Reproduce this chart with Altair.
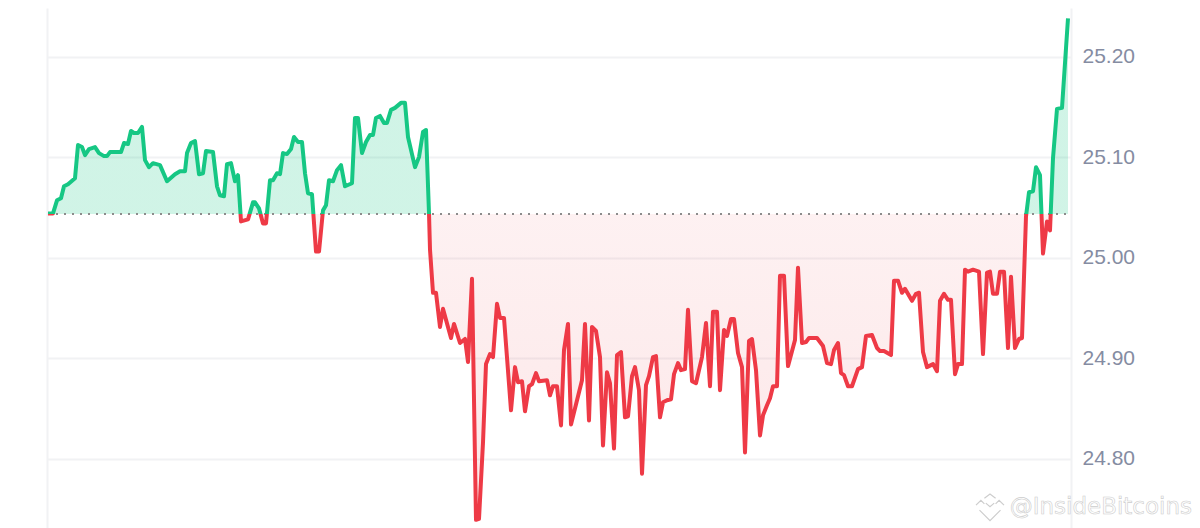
import altair as alt
import pandas as pd

BASE = 25.0434

t = [0,5,9,13,16,20,27,30,34,37,41,47,51,56,59,62,73,76,80,83,86,90,94,97,101,105,112,119,127,132,137,139,143,147,151,155,158,165,169,172,176,179,183,187,190,193,
     200,205,207,211,215,218,222,225,229,232,235,239,243,246,250,254,257,260,264,268,271,275,278,281,285,289,293,297,304,307,310,314,318,322,325,328,332,336,339,343,347,353,357,360,367,371,375,378,381,
     382,385,388,392,395,403,406,412,417,420,424,428,431,435,438,442,445,449,452,456,463,467,470,474,477,481,484,488,491,499,502,505,509,513,516,520,523,534,537,541,544,548,552,555,559,562,566,569,573,577,580,
     584,587,591,594,598,601,605,608,612,615,619,623,626,630,633,637,640,644,648,654,658,662,665,669,672,676,679,683,686,690,694,697,701,704,708,712,715,719,722,725,729,732,736,740,747,750,754,758,761,769,
     775,779,783,786,790,793,796,800,804,810,814,818,824,829,832,836,843,846,850,854,857,864,868,871,875,879,885,889,892,896,900,903,907,910,914,917,920,925,931,935,939,942,945,949,952,956,960,963,967,971,974,
     978,981,985,988,992,995,999,1002,1005,1009,1014,1020]

price = [25.044,25.044,25.057,25.059,25.071,25.073,25.079,25.112,25.110,25.102,25.108,25.110,25.104,25.101,25.101,25.105,25.105,25.114,25.113,25.126,25.124,25.124,25.130,25.097,25.090,25.094,25.092,25.076,25.083,25.086,25.086,25.104,25.114,25.116,25.083,25.084,25.106,25.105,25.071,25.062,25.061,25.093,25.094,25.076,25.082,25.036,
         25.038,25.055,25.055,25.049,25.034,25.034,25.077,25.077,25.084,25.083,25.104,25.103,25.108,25.120,25.115,25.115,25.084,25.064,25.063,25.006,25.006,25.047,25.052,25.077,25.076,25.087,25.092,25.071,25.074,25.139,25.139,25.104,25.115,25.122,25.122,25.139,25.141,25.134,25.134,25.147,25.149,25.154,25.154,25.120,25.090,25.100,25.125,25.127,25.044,
         25.008,24.965,24.965,24.931,24.949,24.920,24.934,24.915,24.919,24.896,24.979,24.739,24.740,24.816,24.894,24.904,24.901,24.954,24.940,24.940,24.848,24.891,24.876,24.877,24.847,24.872,24.874,24.885,24.877,24.878,24.863,24.872,24.872,24.833,24.908,24.934,24.834,24.878,24.934,24.838,24.931,24.927,24.901,24.813,24.886,24.875,24.810,24.903,24.906,24.841,24.842,
         24.882,24.891,24.868,24.785,24.873,24.882,24.901,24.902,24.841,24.856,24.858,24.859,24.884,24.895,24.888,24.889,24.948,24.877,24.875,24.901,24.935,24.872,24.946,24.946,24.868,24.928,24.922,24.939,24.939,24.905,24.891,24.806,24.917,24.919,24.888,24.823,24.843,24.853,24.860,24.872,24.872,24.982,24.982,24.892,24.918,24.990,24.915,24.916,24.920,24.920,
         24.912,24.895,24.894,24.908,24.915,24.885,24.883,24.872,24.872,24.889,24.891,24.922,24.923,24.910,24.907,24.907,24.903,24.977,24.977,24.965,24.969,24.957,24.964,24.965,24.906,24.891,24.894,24.887,24.957,24.964,24.958,24.958,24.884,24.894,24.894,24.988,24.986,24.988,24.986,24.904,24.985,24.986,24.964,24.964,24.986,24.986,24.910,24.981,24.910,24.919,24.920,
         25.041,25.065,25.066,25.090,25.082,25.004,25.036,25.027,25.099,25.148,25.149,25.238]

y_ticks = [24.8, 24.9, 25.0, 25.1, 25.2]
GREEN = "#16c784"
RED = "#ee3a46"

df = pd.DataFrame({"t": t, "price": price, "base": BASE})
split = (max(price) - BASE) / (max(price) - min(price))

x_scale = alt.Scale(domain=[-1, 1023], nice=False, zero=False)
y_scale = alt.Scale(domain=[24.7309, 25.2484], nice=False, zero=False)
x_enc = alt.X("t:Q", scale=x_scale, title=None,
              axis=alt.Axis(values=[-1, 1023], labels=False, ticks=False, domain=False,
                            grid=True, gridColor="#f1f2f4", gridWidth=2))
y_enc = alt.Y("price:Q", scale=y_scale, title=None,
              axis=alt.Axis(orient="right", values=y_ticks, format=".2f", ticks=False, domain=False,
                            grid=True, gridColor="#f1f2f4", gridWidth=2, labelPadding=11,
                            labelFont="Liberation Sans", labelFontSize=21, labelColor="#858ca2"))

area = alt.Chart(df).mark_area(
    fill=alt.LinearGradient(gradient="linear", x1=0, x2=0, y1=0, y2=1, stops=[
        alt.GradientStop(offset=0, color="rgba(22,199,132,0.2)"),
        alt.GradientStop(offset=split, color="rgba(22,199,132,0.2)"),
        alt.GradientStop(offset=split, color="rgba(234,57,67,0.07)"),
        alt.GradientStop(offset=1, color="rgba(234,57,67,0.12)"),
    ])
).encode(x=x_enc, y=y_enc, y2="base:Q")

line = alt.Chart(df).mark_line(
    strokeWidth=4, strokeJoin="round",
    stroke=alt.LinearGradient(gradient="linear", x1=0, x2=0, y1=0, y2=1, stops=[
        alt.GradientStop(offset=0, color=GREEN),
        alt.GradientStop(offset=split, color=GREEN),
        alt.GradientStop(offset=split, color=RED),
        alt.GradientStop(offset=1, color=RED),
    ])
).encode(x=alt.X("t:Q", scale=x_scale), y=alt.Y("price:Q", scale=y_scale))

dots = alt.Chart(pd.DataFrame({"x0": [0], "x1": [1020], "b": [BASE]})).mark_rule(
    color="#8c8c8c", strokeWidth=2, strokeDash=[2, 6]
).encode(x=alt.X("x0:Q", scale=x_scale), x2="x1:Q", y=alt.Y("b:Q", scale=y_scale))

mark_text = alt.Chart(pd.DataFrame({"s": ["@InsideBitcoins"]})).mark_text(
    font="DejaVu Sans", fontSize=23, align="right", baseline="alphabetic",
    fill="#ffffff", stroke="#cdcdcd", strokeWidth=0.6
).encode(x=alt.value(1145), y=alt.value(506), text="s:N")

LOGO = ("M-0.4,-0.7L0,-1L0.4,-0.7M-0.3,-0.35L0,-0.1L0.3,-0.35"
        "M-1,-0.2L-0.65,-0.55L-0.4,-0.3M1,-0.2L0.65,-0.55L0.4,-0.3"
        "M-0.75,0.15L0,0.9L0.75,0.15")
logo = alt.Chart(pd.DataFrame({"k": [0]})).mark_point(
    shape=LOGO, size=784, filled=False, stroke="#cdcdcd", strokeWidth=1.2, opacity=1
).encode(x=alt.value(943), y=alt.value(500))

chart = alt.layer(area, dots, line, logo, mark_text).properties(
    width=1024, height=520,
    padding={"left": 39, "top": 0, "right": 121, "bottom": 0},
    autosize=alt.AutoSizeParams(type="none"),
).configure_view(stroke=None)

chart.save("out.html", embed_options={"renderer": "svg", "actions": False})
